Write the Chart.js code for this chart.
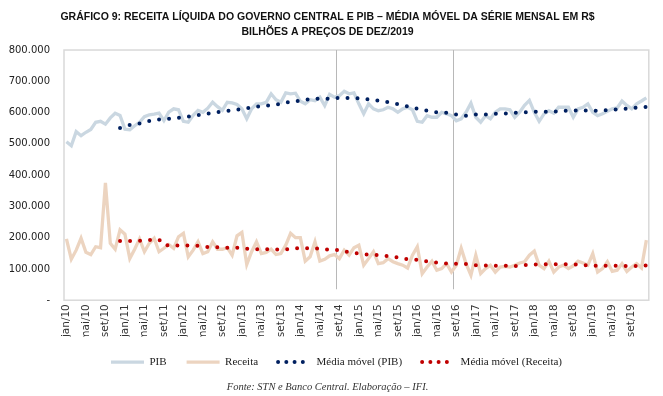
<!DOCTYPE html>
<html lang="pt-BR">
<head>
<meta charset="utf-8">
<title>Gráfico 9 - Receita líquida do Governo Central e PIB</title>
<script src="https://cdn.jsdelivr.net/npm/chart.js@4.4.1/dist/chart.umd.min.js"></script>
<style>
  html, body { margin: 0; padding: 0; background: #fff; }
  canvas { display: block; }
</style>
</head>
<body>
<canvas id="grafico" width="663" height="396"></canvas>
<script>
// Eixo horizontal: meses de jan/10 a dez/19
const meses = ['jan', 'fev', 'mar', 'abr', 'mai', 'jun', 'jul', 'ago', 'set', 'out', 'nov', 'dez'];
const anos = ['10', '11', '12', '13', '14', '15', '16', '17', '18', '19'];

// Valores em R$ bilhões (o eixo mostra em R$ milhões: 600.000 etc.)
const pib = [
  507, 494, 539, 526, 537, 546, 569, 572, 563, 583, 598, 591,
  547, 545, 558, 569, 587, 593, 595, 598, 574, 601, 612, 609,
  572, 569, 591, 607, 601, 614, 633, 619, 607, 633, 631, 626,
  612, 580, 612, 628, 628, 633, 660, 641, 633, 663, 660, 662,
  636, 628, 641, 638, 649, 622, 658, 649, 654, 668, 660, 663,
  628, 596, 628, 612, 606, 609, 617, 612, 601, 612, 617, 609,
  572, 569, 590, 585, 585, 601, 596, 590, 574, 580, 601, 630,
  585, 569, 590, 580, 601, 612, 612, 609, 585, 601, 623, 639,
  601, 572, 596, 606, 598, 617, 617, 617, 585, 612, 617, 628,
  601, 590, 596, 604, 612, 615, 637, 623, 612, 628, 637, 647
];

const receita = [
  196, 131, 160, 198, 153, 146, 171, 168, 375, 182, 163, 225,
  211, 133, 163, 196, 155, 182, 198, 155, 166, 178, 166, 203,
  214, 139, 160, 187, 149, 155, 187, 163, 163, 168, 144, 206,
  217, 114, 155, 187, 149, 153, 163, 146, 149, 176, 214, 200,
  200, 125, 139, 187, 125, 131, 142, 146, 133, 160, 144, 168,
  176, 112, 133, 155, 117, 120, 133, 123, 117, 112, 103, 144,
  171, 85, 106, 125, 96, 101, 117, 90, 112, 166, 117, 80,
  144, 85, 101, 112, 90, 106, 108, 106, 112, 119, 123, 144,
  157, 112, 101, 125, 90, 106, 112, 101, 110, 125, 119, 112,
  149, 90, 101, 123, 92, 96, 117, 92, 106, 117, 103, 192
];

const mediaPib = [
  null, null, null, null, null, null, null, null, null, null, null, 551,
  556, 560, 563, 565, 569, 573, 576, 578, 579, 580, 582, 583,
  585, 587, 590, 592, 595, 597, 599, 601, 603, 605, 607, 609,
  612, 614, 617, 619, 621, 622, 624, 625, 628, 632, 634, 636,
  639, 641, 643, 644, 644, 644, 645, 646, 647, 647, 646, 646,
  646, 644, 642, 640, 638, 636, 633, 630, 627, 624, 620, 616,
  612, 609, 606, 603, 601, 600, 599, 597, 594, 592, 590, 592,
  594, 594, 594, 595, 596, 597, 597, 598, 599, 600, 601, 602,
  602, 603, 603, 603, 603, 605, 606, 606, 606, 607, 607, 607,
  606, 606, 606, 608, 609, 610, 611, 613, 614, 616, 617, 618
];

const mediaReceita = [
  null, null, null, null, null, null, null, null, null, null, null, 189,
  189, 189, 190, 190, 191, 192, 193, 194, 176, 176, 176, 175,
  174, 175, 175, 174, 172, 170, 170, 169, 169, 168, 168, 168,
  167, 165, 164, 163, 163, 163, 162, 162, 162, 162, 165, 166,
  166, 166, 166, 166, 164, 163, 161, 161, 160, 157, 153, 151,
  149, 147, 146, 145, 144, 142, 141, 139, 137, 133, 131, 130,
  129, 126, 124, 122, 120, 118, 117, 116, 117, 118, 116, 114,
  112, 111, 111, 111, 110, 110, 110, 110, 109, 110, 112, 113,
  114, 114, 115, 115, 115, 115, 115, 115, 115, 114, 113, 111,
  110, 110, 110, 110, 110, 110, 109, 109, 109, 109, 109, 111
];

// Linhas verticais de referência
const marcos = ['ago/14', 'ago/16'];

const rotulos = [];
anos.forEach(a => meses.forEach(m => rotulos.push(m + '/' + a)));

// Moldura da área do gráfico e linhas verticais
const moldura = {
  id: 'moldura',
  afterLayout(chart) {
    // legenda um pouco à direita, como no original
    chart.legend.left += 9;
    chart.legend.right += 9;
  },
  beforeDatasetsDraw(chart) {
    const { ctx, chartArea: a, scales } = chart;
    ctx.save();
    ctx.strokeStyle = '#d9d9d9';
    ctx.lineWidth = 1.5;
    ctx.strokeRect(a.left, a.top, a.right - a.left, a.bottom - a.top);
    ctx.strokeStyle = '#b8b8b8';
    ctx.lineWidth = 1;
    marcos.forEach(m => {
      const px = Math.round(scales.x.getPixelForValue(rotulos.indexOf(m) + 0.35)) + 0.5;
      ctx.beginPath();
      ctx.moveTo(px, a.top);
      ctx.lineTo(px, scales.y.getPixelForValue(35));
      ctx.stroke();
    });
    ctx.restore();
  }
};

Chart.defaults.font.family = "'Liberation Sans', Arial, sans-serif";

const ctx = document.getElementById('grafico').getContext('2d');
const grafico = new Chart(ctx, {
  type: 'line',
  data: {
    labels: rotulos,
    datasets: [
      {
        label: 'PIB',
        data: pib,
        borderColor: '#cad7e1',
        borderWidth: 3.3,
        pointRadius: 0,
        order: 2
      },
      {
        label: 'Receita',
        data: receita,
        borderColor: '#ecd4c0',
        borderWidth: 3.3,
        pointRadius: 0,
        order: 2
      },
      {
        label: 'Média móvel (PIB)',
        data: mediaPib,
        borderColor: '#002060',
        borderWidth: 4,
        borderDash: [0, 10],
        borderCapStyle: 'round',
        pointRadius: 0,
        order: 1
      },
      {
        label: 'Média móvel (Receita)',
        data: mediaReceita,
        borderColor: '#c00000',
        borderWidth: 4,
        borderDash: [0, 10],
        borderCapStyle: 'round',
        pointRadius: 0,
        order: 1
      }
    ]
  },
  options: {
    responsive: false,
    animation: false,
    layout: { padding: { left: 0, right: 8, top: 0, bottom: 0 } },
    scales: {
      x: {
        offset: true,
        grid: { display: false, drawTicks: false },
        border: { display: false },
        ticks: {
          autoSkip: false,
          minRotation: 90,
          maxRotation: 90,
          padding: 4,
          color: '#333',
          font: { family: "'DejaVu Sans'", size: 10.5 },
          callback: function (v, i) { return i % 4 === 0 ? this.getLabelForValue(v) : ''; }
        },
        afterFit: s => { s.height = 36.4; }
      },
      y: {
        min: 0,
        max: 800,
        grid: { display: false, drawTicks: false },
        border: { display: false },
        ticks: {
          stepSize: 100,
          padding: 14,
          color: '#222',
          font: { family: "'DejaVu Sans'", size: 10 },
          callback: v => v === 0 ? '-' : v + '.000'
        },
        afterFit: s => { s.width = 64; }
      }
    },
    plugins: {
      title: {
        display: true,
        text: ['GRÁFICO 9: RECEITA LÍQUIDA DO GOVERNO CENTRAL E PIB – MÉDIA MÓVEL DA SÉRIE MENSAL EM R$',
               'BILHÕES A PREÇOS DE DEZ/2019'],
        color: '#111',
        font: { size: 10.5, weight: 'bold', lineHeight: 1.43 },
        padding: { top: 9.5, bottom: 10.5 }
      },
      subtitle: {
        display: true,
        position: 'bottom',
        text: 'Fonte: STN e Banco Central. Elaboração – IFI.',
        color: '#333',
        font: { family: "'Liberation Serif'", size: 10.5, style: 'italic' },
        padding: { top: 3.1, bottom: 2.7 }
      },
      legend: {
        position: 'bottom',
        labels: {
          usePointStyle: true,
          pointStyle: 'line',
          pointStyleWidth: 33,
          padding: 20,
          color: '#222',
          font: { family: "'Liberation Serif'", size: 11 },
          sort: (a, b) => a.datasetIndex - b.datasetIndex,
          generateLabels(chart) {
            const itens = Chart.defaults.plugins.legend.labels.generateLabels(chart);
            itens.forEach(it => {
              const ds = chart.data.datasets[it.datasetIndex];
              it.lineWidth = ds.borderWidth;
              it.strokeStyle = ds.borderColor;
              if (ds.borderDash) {
                it.lineDash = [0, 8.25];
                it.lineCap = 'round';
              } else {
                it.lineDash = [];
                it.lineCap = 'butt';
              }
            });
            return itens;
          }
        }
      },
      tooltip: { enabled: false }
    }
  },
  plugins: [moldura]
});
</script>
</body>
</html>
